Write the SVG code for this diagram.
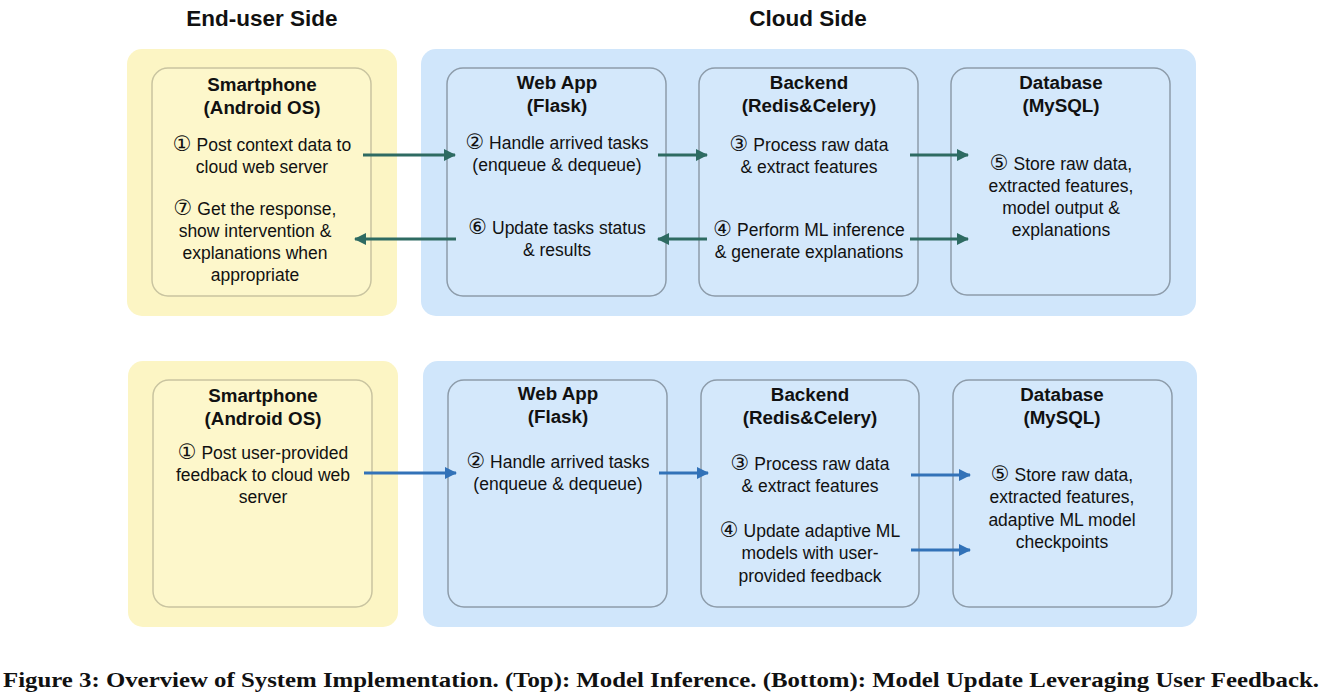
<svg xmlns="http://www.w3.org/2000/svg" width="1322" height="694" viewBox="0 0 1322 694">
<defs>
<style>
.bg{fill:#ffffff}
.ypanel{fill:#fcf5c4}
.bpanel{fill:#d0e6fb}
.ybox{fill:#fdf7cb;stroke:#c9c4a0;stroke-width:1.5}
.bbox{fill:#d4e8fb;stroke:#8d9caa;stroke-width:1.5}
.hdr{font-family:"Liberation Sans","DejaVu Sans",Arial,sans-serif;font-size:22.5px;font-weight:bold;fill:#111;text-anchor:middle}
.ttl{font-family:"Liberation Sans","DejaVu Sans",Arial,sans-serif;font-size:18.8px;font-weight:bold;fill:#111;text-anchor:middle}
.txt{font-family:"Liberation Sans","DejaVu Sans",Arial,sans-serif;font-size:17.5px;fill:#111;text-anchor:middle}
.n{font-family:"DejaVu Sans",sans-serif;font-size:21px}
.cap{font-family:"Liberation Serif","DejaVu Serif",serif;font-size:22px;font-weight:bold;fill:#111}
.at{stroke:#2e6b62;stroke-width:3;fill:none}
.ab{stroke:#3272b8;stroke-width:3;fill:none}
</style>
<marker id="mt" viewBox="0 0 12 12" refX="11" refY="6" markerWidth="12" markerHeight="12" markerUnits="userSpaceOnUse" orient="auto">
<path d="M0,0 L12,6 L0,12 z" fill="#2e6b62"/>
</marker>
<marker id="mb" viewBox="0 0 12 12" refX="11" refY="6" markerWidth="12" markerHeight="12" markerUnits="userSpaceOnUse" orient="auto">
<path d="M0,0 L12,6 L0,12 z" fill="#3272b8"/>
</marker>
</defs>
<rect class="bg" x="0" y="0" width="1322" height="694"/>
<text class="hdr" x="262" y="26">End-user Side</text>
<text class="hdr" x="808" y="26">Cloud Side</text>

<g id="panels">
<rect class="ypanel" x="127" y="49" width="270" height="267" rx="15"/>
<rect class="bpanel" x="421" y="49" width="775" height="267" rx="15"/>
<rect class="ypanel" x="128" y="361" width="270" height="266" rx="15"/>
<rect class="bpanel" x="423" y="361" width="774" height="266" rx="15"/>
</g>

<g id="top-smartphone">
<rect class="ybox" x="152" y="68" width="219" height="228" rx="16"/>
<text class="ttl" x="262" y="91">Smartphone</text>
<text class="ttl" x="262" y="114">(Android OS)</text>
<text class="txt" x="262" y="151"><tspan class="n">①</tspan> Post context data to</text>
<text class="txt" x="262" y="173">cloud web server</text>
<text class="txt" x="255" y="215"><tspan class="n">⑦</tspan> Get the response,</text>
<text class="txt" x="255" y="237">show intervention &amp;</text>
<text class="txt" x="255" y="259">explanations when</text>
<text class="txt" x="255" y="281">appropriate</text>
</g>

<g id="top-webapp">
<rect class="bbox" x="447" y="68" width="219" height="228" rx="16"/>
<text class="ttl" x="557" y="89">Web App</text>
<text class="ttl" x="557" y="112">(Flask)</text>
<text class="txt" x="557" y="149"><tspan class="n">②</tspan> Handle arrived tasks</text>
<text class="txt" x="557" y="171">(enqueue &amp; dequeue)</text>
<text class="txt" x="557" y="234"><tspan class="n">⑥</tspan> Update tasks status</text>
<text class="txt" x="557" y="256">&amp; results</text>
</g>

<g id="top-backend">
<rect class="bbox" x="699" y="68" width="219" height="228" rx="16"/>
<text class="ttl" x="809" y="89">Backend</text>
<text class="ttl" x="809" y="112">(Redis&amp;Celery)</text>
<text class="txt" x="809" y="151"><tspan class="n">③</tspan> Process raw data</text>
<text class="txt" x="809" y="173">&amp; extract features</text>
<text class="txt" x="809" y="236"><tspan class="n">④</tspan> Perform ML inference</text>
<text class="txt" x="809" y="258">&amp; generate explanations</text>
</g>

<g id="top-database">
<rect class="bbox" x="951" y="68" width="219" height="227" rx="16"/>
<text class="ttl" x="1061" y="89">Database</text>
<text class="ttl" x="1061" y="112">(MySQL)</text>
<text class="txt" x="1061" y="170"><tspan class="n">⑤</tspan> Store raw data,</text>
<text class="txt" x="1061" y="192">extracted features,</text>
<text class="txt" x="1061" y="214">model output &amp;</text>
<text class="txt" x="1061" y="236">explanations</text>
</g>

<g id="bottom-smartphone">
<rect class="ybox" x="153" y="380" width="219" height="227" rx="16"/>
<text class="ttl" x="263" y="402">Smartphone</text>
<text class="ttl" x="263" y="425">(Android OS)</text>
<text class="txt" x="263" y="459"><tspan class="n">①</tspan> Post user-provided</text>
<text class="txt" x="263" y="481">feedback to cloud web</text>
<text class="txt" x="263" y="503">server</text>
</g>

<g id="bottom-webapp">
<rect class="bbox" x="448" y="380" width="219" height="227" rx="16"/>
<text class="ttl" x="558" y="400">Web App</text>
<text class="ttl" x="558" y="423">(Flask)</text>
<text class="txt" x="558" y="468"><tspan class="n">②</tspan> Handle arrived tasks</text>
<text class="txt" x="558" y="490">(enqueue &amp; dequeue)</text>
</g>

<g id="bottom-backend">
<rect class="bbox" x="701" y="380" width="218" height="227" rx="16"/>
<text class="ttl" x="810" y="401">Backend</text>
<text class="ttl" x="810" y="424">(Redis&amp;Celery)</text>
<text class="txt" x="810" y="470"><tspan class="n">③</tspan> Process raw data</text>
<text class="txt" x="810" y="492">&amp; extract features</text>
<text class="txt" x="810" y="537"><tspan class="n">④</tspan> Update adaptive ML</text>
<text class="txt" x="810" y="559">models with user-</text>
<text class="txt" x="810" y="582">provided feedback</text>
</g>

<g id="bottom-database">
<rect class="bbox" x="953" y="380" width="219" height="227" rx="16"/>
<text class="ttl" x="1062" y="401">Database</text>
<text class="ttl" x="1062" y="424">(MySQL)</text>
<text class="txt" x="1062" y="481"><tspan class="n">⑤</tspan> Store raw data,</text>
<text class="txt" x="1062" y="503">extracted features,</text>
<text class="txt" x="1062" y="526">adaptive ML model</text>
<text class="txt" x="1062" y="548">checkpoints</text>
</g>

<g id="connectors">
<line class="at" x1="363" y1="155" x2="455" y2="155" marker-end="url(#mt)"/>
<line class="at" x1="658" y1="155" x2="707" y2="155" marker-end="url(#mt)"/>
<line class="at" x1="910" y1="155" x2="968" y2="155" marker-end="url(#mt)"/>
<line class="at" x1="456" y1="239" x2="355" y2="239" marker-end="url(#mt)"/>
<line class="at" x1="707" y1="239" x2="658" y2="239" marker-end="url(#mt)"/>
<line class="at" x1="910" y1="239" x2="968" y2="239" marker-end="url(#mt)"/>
<line class="ab" x1="364" y1="473" x2="456" y2="473" marker-end="url(#mb)"/>
<line class="ab" x1="659" y1="473" x2="708" y2="473" marker-end="url(#mb)"/>
<line class="ab" x1="911" y1="475" x2="970" y2="475" marker-end="url(#mb)"/>
<line class="ab" x1="911" y1="550" x2="970" y2="550" marker-end="url(#mb)"/>
</g>

<text class="cap" x="3" y="687" textLength="1316" lengthAdjust="spacingAndGlyphs">Figure 3: Overview of System Implementation. (Top): Model Inference. (Bottom): Model Update Leveraging User Feedback.</text>
</svg>
